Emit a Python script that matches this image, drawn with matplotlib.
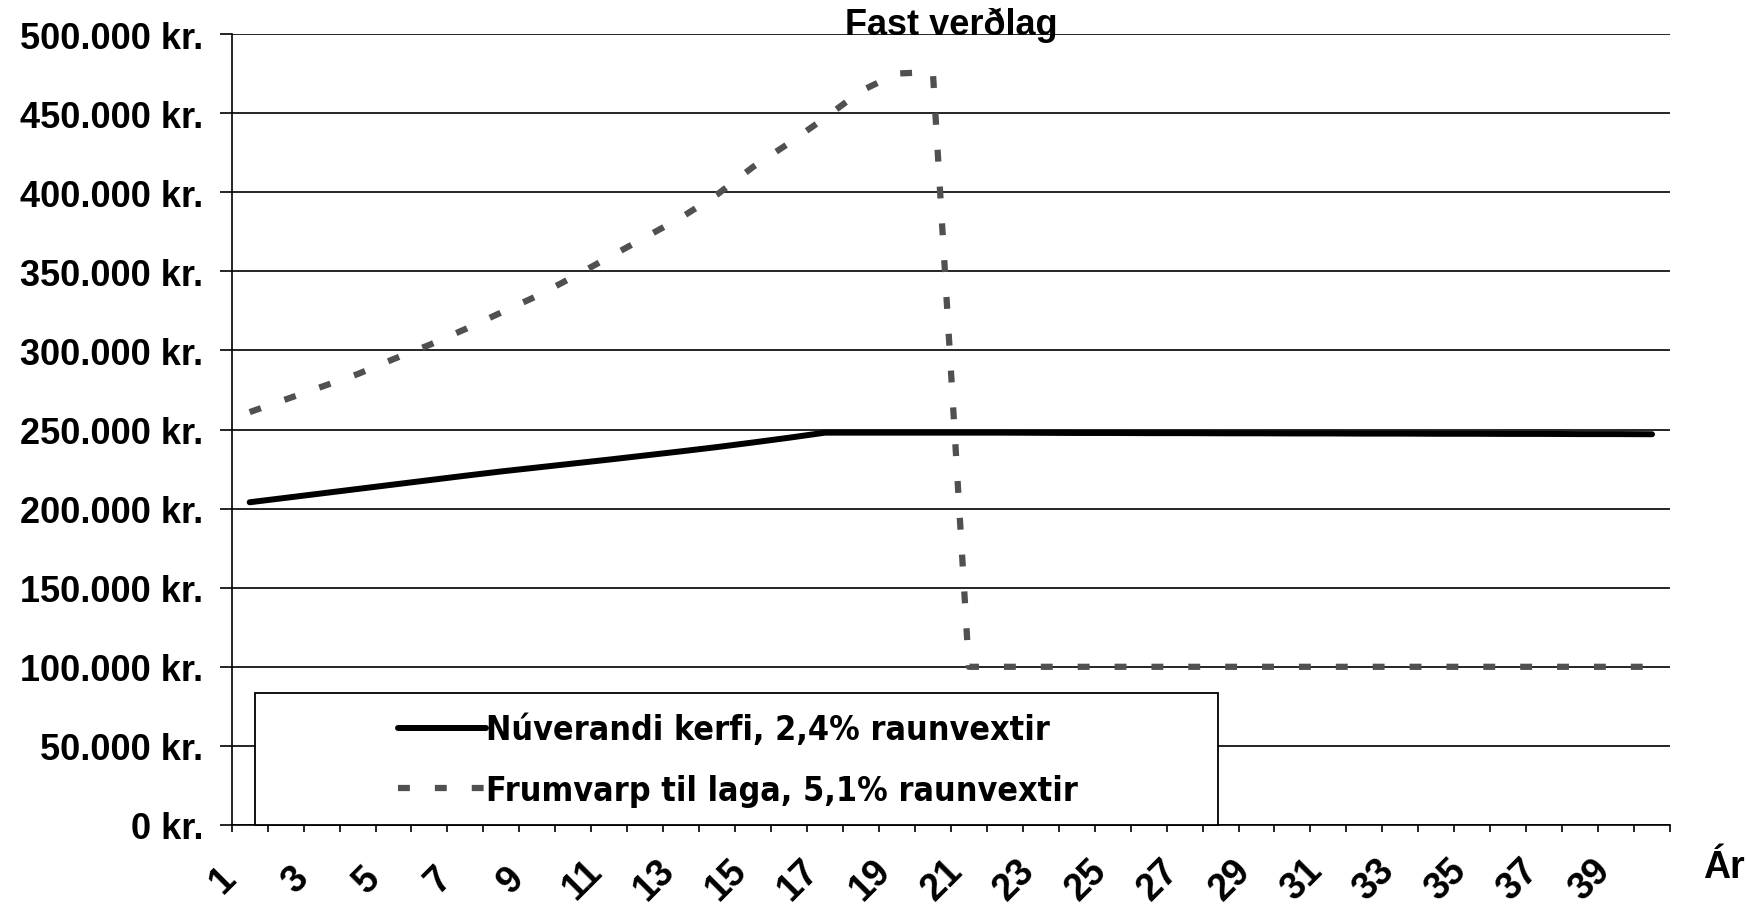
import matplotlib
matplotlib.use("Agg")
import matplotlib.pyplot as plt
from matplotlib import font_manager
from matplotlib.patches import Rectangle

# ár 1..40
years = list(range(1, 41))

# Núverandi kerfi, 2,4% raunvextir (kr.)
nuverandi = [204000, 206800, 209600, 212400, 215200, 218000, 220800, 223500,
             226000, 228500, 231000, 233600, 236200, 238900, 241800, 244800,
             248000, 248000, 248000, 248000, 248000, 248000, 247900, 247800,
             247800, 247700, 247700, 247600, 247600, 247500, 247500, 247400,
             247400, 247300, 247300, 247200, 247200, 247100, 247100, 247000]

# Frumvarp til laga, 5,1% raunvextir (kr.)
frumvarp = [261000, 269000, 277000, 285000, 294500, 303500, 313500, 324000,
            334500, 346500, 359000, 371500, 384000, 398500, 416000, 431000,
            447000, 464000, 475000, 476000] + [100000] * 20

yticks = list(range(0, 500001, 50000))

title = "Fast verðlag"
label1 = "Núverandi kerfi, 2,4% raunvextir"
label2 = "Frumvarp til laga, 5,1% raunvextir"

plt.rcParams['font.family'] = ['Liberation Sans', 'DejaVu Sans']

# narrow bold font for the legend if there is one
fonts = font_manager.fontManager.ttflist
legprop = {"family": "Liberation Sans", "weight": "bold"}
if any(f.name == "Liberation Sans Narrow" for f in fonts):
    legprop = {"family": "Liberation Sans Narrow", "weight": "bold"}
elif any(f.name == "DejaVu Sans" and f.stretch == "condensed" for f in fonts):
    legprop = {"family": "DejaVu Sans", "stretch": "condensed", "weight": "bold"}

W, H = 1746, 912
fig = plt.figure(figsize=(W / 100, H / 100), dpi=100)

# size the legend text so that the first label is ~562 px wide
r = fig.canvas.get_renderer()
t = fig.text(0, 0, label1, fontsize=30, **legprop)
legsize = 30 * 562 / t.get_window_extent(r).width
t.remove()
legsize = min(legsize, 32)

ax = fig.add_axes([231.7 / W, 86 / H, (1670 - 231.7) / W, (826 - 35) / H])

l1, = ax.plot(years, nuverandi, color="black", lw=4.3, solid_capstyle="round",
              zorder=3)
l2, = ax.plot(years, frumvarp, color="#505050", lw=4.5, dashes=(1.9, 4.0),
              dash_capstyle="butt", zorder=3)

ax.set_xlim(0.5, 40.5)
ax.set_ylim(0, 500000)
ax.set_yticks(yticks)
ax.set_yticklabels([f"{v:,.0f}".replace(",", ".") + " kr." for v in yticks],
                   fontsize=26, fontweight="bold")
ax.tick_params(axis="y", length=8.6, width=1.2, pad=12, direction="out")
ax.grid(axis="y", color="black", lw=1.2)
ax.set_axisbelow(True)

ax.set_xticks([x + 0.5 for x in range(0, 41)])
ax.set_xticklabels([])
ax.tick_params(axis="x", length=5, width=1.2, direction="out")
for y in years:
    if y % 2 == 1:
        ax.annotate(str(y), xy=(y, 0), xycoords=("data", "axes fraction"),
                    xytext=(-19, -39), textcoords="offset points",
                    ha="center", va="center", rotation=45,
                    fontsize=27, fontweight="bold", annotation_clip=False)

for s in ["top", "right"]:
    ax.spines[s].set_visible(False)
ax.spines["left"].set_linewidth(1.2)
ax.spines["bottom"].set_linewidth(1.2)

ax.text(0.5, 1.0, title, transform=ax.transAxes, ha="center", va="baseline",
        fontsize=26, fontweight="bold")
fig.text(1703 / W, 1 - 868 / H, "Ár", ha="left", va="center",
         fontsize=27, fontweight="bold")

# legend box
box = Rectangle((255 / W, 1 - 826 / H), (1218 - 255) / W, (826 - 694) / H,
                transform=fig.transFigure, facecolor="white", edgecolor="black",
                lw=1.3, zorder=4)
ax.add_patch(box)
box.set_clip_on(False)
leg = ax.legend([l1, l2], [label1, label2], loc="center",
                bbox_to_anchor=(738 / W, 1 - 761 / H),
                bbox_transform=fig.transFigure, frameon=False,
                handlelength=88 / (legsize * 100 / 72), handletextpad=0.0,
                borderpad=0, labelspacing=0.8,
                prop=dict(legprop, size=legsize))
leg.set_zorder(5)

fig.savefig("out.png", dpi=100)
